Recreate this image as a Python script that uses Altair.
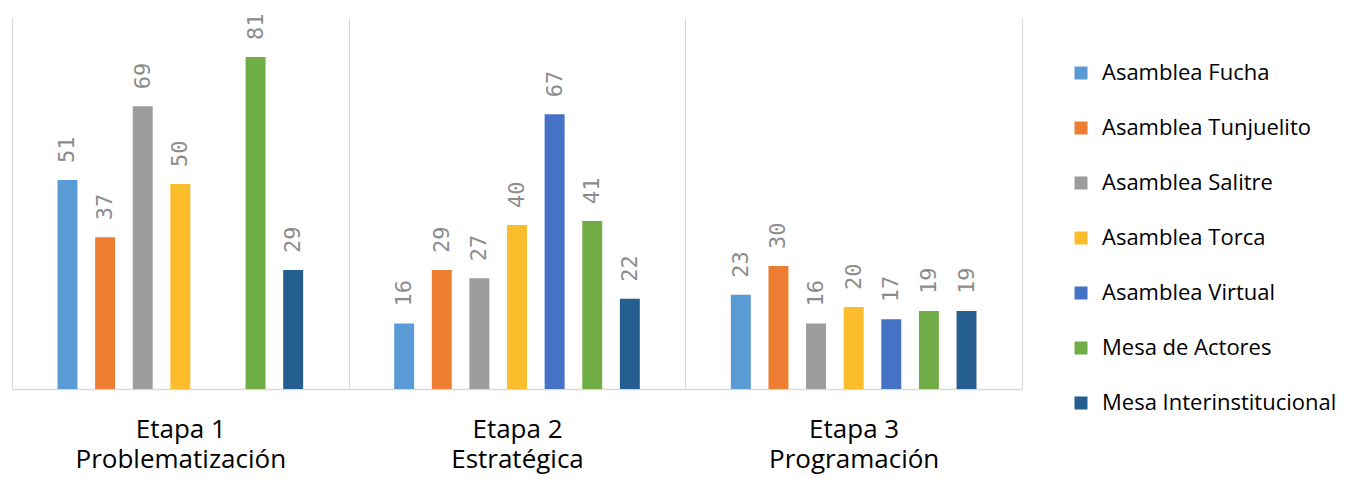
import altair as alt
import pandas as pd

stages = ["Etapa 1|Problematización", "Etapa 2|Estratégica", "Etapa 3|Programación"]
series = ["Asamblea Fucha", "Asamblea Tunjuelito", "Asamblea Salitre", "Asamblea Torca",
          "Asamblea Virtual", "Mesa de Actores", "Mesa Interinstitucional"]
colors = ["#5b9bd5", "#ed7d31", "#9a9c9d", "#fbbd2b", "#4472c4", "#70ad47", "#255e91"]
etapa1 = [51, 37, 69, 50, None, 81, 29]
etapa2 = [16, 29, 27, 40, 67, 41, 22]
etapa3 = [23, 30, 16, 20, 17, 19, 19]

rows = []
for stage, vals in zip(stages, [etapa1, etapa2, etapa3]):
    for s, v in zip(series, vals):
        if v is not None:
            rows.append({"etapa": stage, "serie": s, "valor": v})
df = pd.DataFrame(rows)

offset_domain = ["_pad_left"] + series + ["_pad_right"]

x = alt.X("etapa:N", sort=stages,
          scale=alt.Scale(paddingInner=0, paddingOuter=0),
          axis=alt.Axis(title=None, labelAngle=0, labelExpr="split(datum.label, '|')",
                        tickBand="extent", grid=True, gridColor="#d9d9d9", gridWidth=1.2,
                        domainColor="#d9d9d9", domainWidth=1.5, ticks=False,
                        labelFontSize=26, labelFont="Open Sans", labelColor="#000000",
                        labelLineHeight=30, labelPadding=27, labelLimit=400))
xo = alt.XOffset("serie:N",
                 scale=alt.Scale(domain=offset_domain, paddingInner=0.47, paddingOuter=0.21))
y = alt.Y("valor:Q", scale=alt.Scale(domain=[0, 90.5]), axis=None)

bars = alt.Chart(df).mark_bar().encode(
    x=x, xOffset=xo, y=y,
    color=alt.Color("serie:N", sort=series,
                    scale=alt.Scale(domain=series, range=colors),
                    legend=alt.Legend(title=None, orient="none", legendX=1058, legendY=44,
                                      symbolType="square", symbolSize=169, symbolStrokeWidth=0,
                                      labelFont="Open Sans", labelFontSize=22, labelColor="#000000",
                                      labelOffset=10, rowPadding=33, padding=0,
                                      labelLimit=400)),
)

labels = alt.Chart(df).mark_text(angle=270, align="left", baseline="middle", dx=17,
                                 font="DejaVu Sans Mono", fontSize=22, color="#8c8c8c").encode(
    x=x, xOffset=xo, y=y, text=alt.Text("valor:Q"))

chart = alt.layer(bars, labels).properties(
    width=1010, height=371,
    autosize=alt.AutoSizeParams(type="none"),
    padding={"left": 4, "top": 10, "right": 320, "bottom": 89},
).configure_view(stroke=None)

chart.save("out.html", embed_options={"renderer": "svg", "actions": False})
